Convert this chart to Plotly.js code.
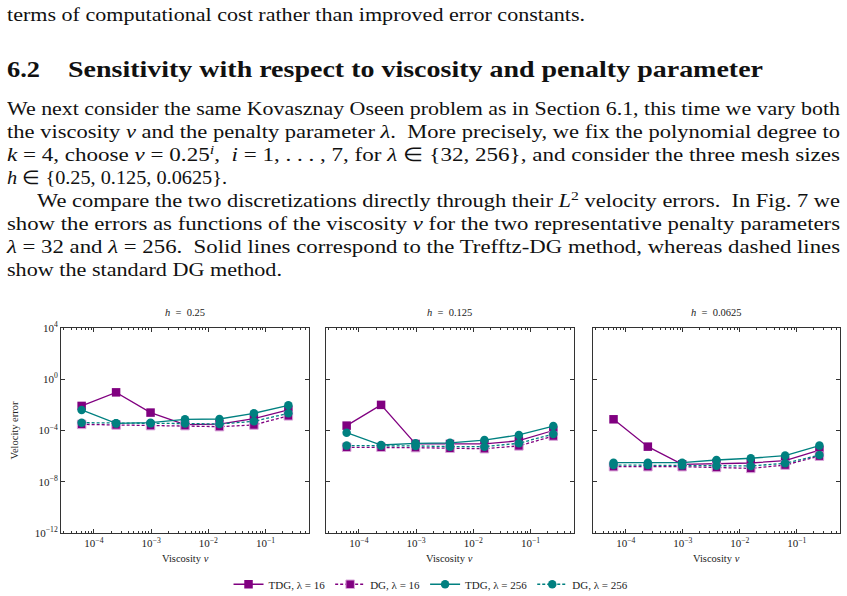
<!DOCTYPE html>
<html>
<head>
<meta charset="utf-8">
<script src="https://cdn.plot.ly/plotly-3.0.1.min.js"></script>
<style>
  html, body { margin:0; padding:0; background:#fff; }
  body { width:847px; height:596px; overflow:hidden; position:relative; font-family:"Liberation Serif", serif; color:#111; }
  .ln { position:absolute; left:7px; line-height:23px; white-space:nowrap; transform-origin:0 50%; }
  .hd { position:absolute; top:57px; font-weight:bold; line-height:26px; white-space:nowrap; transform-origin:0 50%; }
  sup { font-size:70%; line-height:0; }
  #chart { position:absolute; left:0; top:295px; width:847px; height:301px; }
</style>
</head>
<body>
<div class="ln fit" data-w="578" style="top:3px; font-size:19px;">terms of computational cost rather than improved error constants.</div>
<div class="hd fit" data-w="33" style="left:7px; font-size:22.5px;">6.2</div>
<div class="hd fit" data-w="695" style="left:68px; font-size:22.5px;">Sensitivity with respect to viscosity and penalty parameter</div>
<div class="ln fit" data-w="833" style="top:97px; font-size:19px;">We next consider the same Kovasznay Oseen problem as in Section 6.1, this time we vary both</div>
<div class="ln fit" data-w="833" style="top:120px; font-size:19px;">the viscosity <i>ν</i> and the penalty parameter <i>λ</i>.&nbsp; More precisely, we fix the polynomial degree to</div>
<div class="ln fit" data-w="833" style="top:143px; font-size:19px;"><i>k</i> = 4, choose <i>ν</i> = 0.25<sup><i>i</i></sup>, &nbsp;<i>i</i> = 1, . . . , 7, for <i>λ</i> ∈ {32, 256}, and consider the three mesh sizes</div>
<div class="ln fit" data-w="220" style="top:166px; font-size:19px;"><i>h</i> ∈ {0.25, 0.125, 0.0625}.</div>
<div class="ln fit" data-w="803" style="top:189px; left:37px; font-size:19px;">We compare the two discretizations directly through their <i>L</i><sup>2</sup> velocity errors.&nbsp; In Fig. 7 we</div>
<div class="ln fit" data-w="833" style="top:212px; font-size:19px;">show the errors as functions of the viscosity <i>ν</i> for the two representative penalty parameters</div>
<div class="ln fit" data-w="833" style="top:235px; font-size:19px;"><i>λ</i> = 32 and <i>λ</i> = 256.&nbsp; Solid lines correspond to the Trefftz-DG method, whereas dashed lines</div>
<div class="ln fit" data-w="275" style="top:258px; font-size:19px;">show the standard DG method.</div>
<div id="chart"></div>
<script>
// fit each text line to the width it has on the page
document.querySelectorAll('.fit').forEach(el => {
  const w = el.getBoundingClientRect().width;
  const target = parseFloat(el.dataset.w);
  if (w > 0) el.style.transform = 'scaleX(' + (target / w).toFixed(4) + ')';
});

// ---- data ----
const nu = [6.1035e-5, 2.4414e-4, 9.7656e-4, 3.9063e-3, 1.5625e-2, 6.25e-2, 0.25];
const meshTitles = ['<i>h</i>&nbsp; =&nbsp; 0.25', '<i>h</i>&nbsp; =&nbsp; 0.125', '<i>h</i>&nbsp; =&nbsp; 0.0625'];
const seriesNames = ['TDG, λ = 16', 'DG, λ = 16', 'TDG, λ = 256', 'DG, λ = 256'];

// h = 0.25
const tdg16_h1  = [8.3e-3, 9.5e-2, 2.5e-3, 2.9e-4, 3.2e-4, 8.5e-4, 4.0e-3];
const dg16_h1   = [3.0e-4, 2.7e-4, 2.4e-4, 2.4e-4, 2.0e-4, 2.7e-4, 1.4e-3];
const tdg256_h1 = [4.0e-3, 3.6e-4, 4.1e-4, 7.4e-4, 7.9e-4, 2.2e-3, 9.3e-3];
const dg256_h1  = [4.1e-4, 3.6e-4, 3.6e-4, 3.5e-4, 3.2e-4, 5.2e-4, 2.2e-3];
// h = 0.125
const tdg16_h2  = [2.4e-4, 1.0e-2, 8.9e-6, 8.9e-6, 8.9e-6, 1.6e-5, 1.0e-4];
const dg16_h2   = [4.9e-6, 4.9e-6, 4.6e-6, 4.1e-6, 3.8e-6, 6.3e-6, 3.7e-5];
const tdg256_h2 = [6.8e-5, 7.4e-6, 1.0e-5, 1.1e-5, 1.8e-5, 4.5e-5, 2.2e-4];
const dg256_h2  = [6.6e-6, 6.6e-6, 6.3e-6, 5.5e-6, 5.5e-6, 1.0e-5, 5.4e-5];
// h = 0.0625
const tdg16_h3  = [7.5e-4, 5.5e-6, 2.3e-7, 2.75e-7, 2.9e-7, 4.5e-7, 3.0e-6];
const dg16_h3   = [1.5e-7, 1.5e-7, 1.5e-7, 1.3e-7, 1.1e-7, 2.0e-7, 1.0e-6];
const tdg256_h3 = [3.1e-7, 3.1e-7, 3.1e-7, 5.0e-7, 6.8e-7, 1.1e-6, 6.6e-6];
const dg256_h3  = [2.0e-7, 2.0e-7, 1.9e-7, 1.8e-7, 1.7e-7, 2.75e-7, 1.2e-6];

const xTickVals = [1e-4, 1e-3, 1e-2, 1e-1];
const xTickText = ['10<sup>−4</sup>', '10<sup>−3</sup>', '10<sup>−2</sup>', '10<sup>−1</sup>'];
const yTickVals = [1e-12, 1e-8, 1e-4, 1, 1e4];
const yTickText = ['10<sup>−12</sup>', '10<sup>−8</sup>', '10<sup>−4</sup>', '10<sup>0</sup>', '10<sup>4</sup>'];

// ---- build ----
const PURPLE = '#800080', TEAL = '#008080';
const styles = [
  {color: PURPLE, dash: 'solid', symbol: 'square'},
  {color: PURPLE, dash: '3px,2px', symbol: 'square'},
  {color: TEAL, dash: 'solid', symbol: 'circle'},
  {color: TEAL, dash: '3px,2px', symbol: 'circle'}
];
const panels = [
  [tdg16_h1, dg16_h1, tdg256_h1, dg256_h1],
  [tdg16_h2, dg16_h2, tdg256_h2, dg256_h2],
  [tdg16_h3, dg16_h3, tdg256_h3, dg256_h3]
];
const traces = [];
panels.forEach((series, p) => {
  series.forEach((ys, s) => {
    const st = styles[s];
    traces.push({
      type: 'scatter', mode: 'lines+markers',
      x: nu, y: ys,
      xaxis: p === 0 ? 'x' : 'x' + (p + 1),
      yaxis: p === 0 ? 'y' : 'y' + (p + 1),
      name: seriesNames[s], legendgroup: seriesNames[s], showlegend: p === 0,
      line: {color: st.color, width: 1.3, dash: st.dash},
      marker: {color: st.color, symbol: st.symbol, size: 8.5,
               line: {width: s === 1 ? 1 : 0, color: '#d9a6d9'}}
    });
  });
});

const FONT = 'Liberation Serif, serif';
const TXT = {family: FONT, size: 10.5, color: '#222'};
const TICK = {family: FONT, size: 11, color: '#222'};
const domains = [[0, 0.3184], [0.3402, 0.6585], [0.6829, 1]];
const layout = {
  width: 847, height: 301,
  margin: {l: 61, r: 7, t: 33, b: 63, autoexpand: false},
  paper_bgcolor: '#fff', plot_bgcolor: '#fff',
  font: TXT,
  showlegend: true,
  legend: {orientation: 'h', x: 0.475, xanchor: 'center', y: -0.25, yanchor: 'middle',
           font: {family: FONT, size: 11, color: '#222'}, itemwidth: 30, tracegroupgap: 0},
  annotations: []
};
domains.forEach((d, i) => {
  const sx = i === 0 ? '' : String(i + 1);
  layout['xaxis' + sx] = {
    type: 'log', domain: d, anchor: 'y' + sx, range: [-4.575, -0.241],
    tickmode: 'array', tickvals: xTickVals, ticktext: xTickText,
    ticks: 'inside', ticklen: 4, tickcolor: '#333', mirror: 'allticks',
    showline: true, linecolor: '#333', linewidth: 1, showgrid: false, zeroline: false,
    tickfont: TICK,
    minor: {dtick: 'D1', ticks: 'inside', ticklen: 2, tickcolor: '#333', showgrid: false}
  };
  layout['yaxis' + sx] = {
    type: 'log', domain: [0, 1], anchor: 'x' + sx, range: [-12, 4],
    tickmode: 'array', tickvals: yTickVals, ticktext: yTickText,
    ticks: 'inside', ticklen: 4, tickcolor: '#333', mirror: 'allticks',
    showline: true, linecolor: '#333', linewidth: 1, showgrid: false, zeroline: false,
    showticklabels: i === 0,
    tickfont: TICK
  };
  const cx = (d[0] + d[1]) / 2;
  layout.annotations.push({xref: 'paper', yref: 'paper', x: cx, xanchor: 'center', y: 1, yshift: 16, yanchor: 'middle',
    text: meshTitles[i], showarrow: false, font: TXT});
  layout.annotations.push({xref: 'paper', yref: 'paper', x: cx, xanchor: 'center', y: 0, yshift: -25, yanchor: 'middle',
    text: 'Viscosity <i>ν</i>', showarrow: false, font: TXT});
});
layout.annotations.push({xref: 'paper', yref: 'paper', x: 0, xshift: -47, y: 0.5, xanchor: 'center', yanchor: 'middle',
  textangle: -90, text: 'Velocity error', showarrow: false, font: TXT});

Plotly.newPlot('chart', traces, layout, {displayModeBar: false, staticPlot: true});
</script>
</body>
</html>
